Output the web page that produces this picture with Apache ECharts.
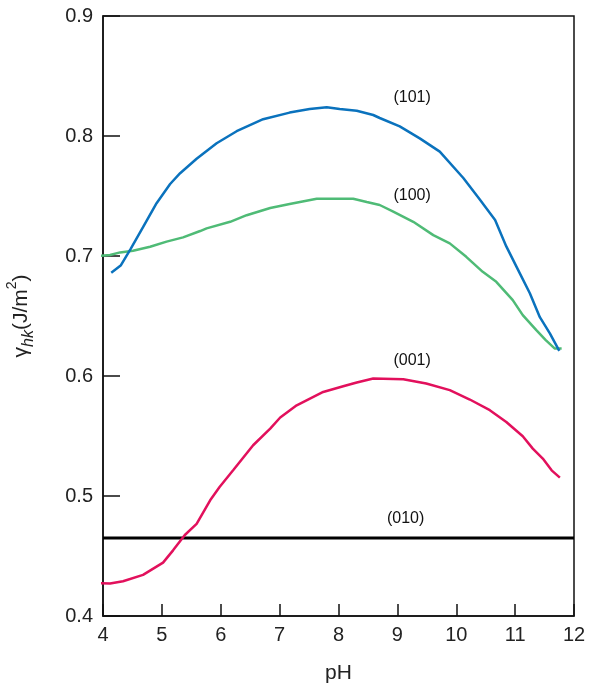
<!DOCTYPE html>
<html>
<head>
<meta charset="utf-8">
<script src="https://cdn.jsdelivr.net/npm/echarts@6/dist/echarts.min.js"></script>
<style>
html, body { margin: 0; padding: 0; background: #fff; }
#chart { width: 589px; height: 689px; }
</style>
</head>
<body>
<div id="chart"></div>
<script>
// (101) curve
let ph101 = [4.14, 4.30, 4.47, 4.68, 4.91, 5.14, 5.31, 5.59, 5.93, 6.27, 6.72, 7.17, 7.51, 7.80, 8.02, 8.31, 8.59, 8.70, 9.04, 9.38, 9.72, 10.12, 10.40, 10.66, 10.85, 11.08, 11.25, 11.42, 11.59, 11.75];
let g101 = [0.686, 0.692, 0.706, 0.724, 0.744, 0.760, 0.769, 0.781, 0.794, 0.804, 0.814, 0.8195, 0.8225, 0.824, 0.8225, 0.821, 0.8175, 0.815, 0.808, 0.798, 0.787, 0.765, 0.747, 0.730, 0.708, 0.6855, 0.669, 0.649, 0.6355, 0.621];

// (100) curve
let ph100 = [3.93, 4.12, 4.29, 4.51, 4.80, 5.08, 5.36, 5.65, 5.76, 6.16, 6.44, 6.84, 7.17, 7.63, 8.25, 8.48, 8.70, 8.93, 9.27, 9.61, 9.89, 10.17, 10.45, 10.68, 10.96, 11.13, 11.36, 11.52, 11.67, 11.79];
let g100 = [0.700, 0.7008, 0.703, 0.7043, 0.7077, 0.712, 0.7155, 0.7208, 0.723, 0.7285, 0.734, 0.740, 0.7433, 0.7477, 0.7477, 0.745, 0.7425, 0.737, 0.7285, 0.7174, 0.7105, 0.6993, 0.6868, 0.6785, 0.6632, 0.6507, 0.6382, 0.6299, 0.623, 0.623];

// (001) curve
let ph001 = [3.95, 4.12, 4.34, 4.68, 5.02, 5.19, 5.39, 5.59, 5.82, 5.98, 6.21, 6.55, 6.84, 7.01, 7.29, 7.74, 8.08, 8.31, 8.59, 9.10, 9.49, 9.89, 10.23, 10.57, 10.85, 11.13, 11.30, 11.47, 11.62, 11.76];
let g001 = [0.4274, 0.427, 0.429, 0.4343, 0.4445, 0.4547, 0.4675, 0.4767, 0.4964, 0.5075, 0.5214, 0.5423, 0.5562, 0.5654, 0.5756, 0.5867, 0.5915, 0.5946, 0.5979, 0.5973, 0.5937, 0.5882, 0.5804, 0.5715, 0.5617, 0.5498, 0.5395, 0.5312, 0.5214, 0.5153];

// (010) constant
let ph010 = [4, 12];
let g010 = [0.465, 0.465];

// curve labels
let labelNames = ['(101)', '(100)', '(001)', '(010)'];
let labelPh = [9.25, 9.25, 9.25, 9.14];
let labelG = [0.832, 0.750, 0.613, 0.481];

let xTicks = [4, 5, 6, 7, 8, 9, 10, 11, 12];
let yTicks = [0.4, 0.5, 0.6, 0.7, 0.8, 0.9];

function pairs(xs, ys) {
	return xs.map((x, i) => [x, ys[i]]);
}

let myChart = echarts.init(document.getElementById('chart'));

let font = 'Liberation Sans, Arial, sans-serif';

option = {
	animation: false,
	grid: {
		left: 103,
		right: 15,
		top: 16,
		bottom: 73,
		containLabel: false,
		outerBoundsMode: 'none',
		show: true,
		borderColor: '#111',
		borderWidth: 1.5
	},
	xAxis: {
		type: 'value',
		min: xTicks[0],
		max: xTicks[xTicks.length - 1],
		interval: 1,
		name: 'pH',
		nameLocation: 'middle',
		nameGap: 47,
		nameTextStyle: { fontFamily: font, fontSize: 21, color: '#222' },
		axisLine: { lineStyle: { color: '#111', width: 1.5 } },
		axisTick: { inside: true, length: 12, lineStyle: { color: '#111', width: 1.5 } },
		axisLabel: { fontFamily: font, fontSize: 20, color: '#222', margin: 9 },
		splitLine: { show: false }
	},
	yAxis: {
		type: 'value',
		min: yTicks[0],
		max: yTicks[yTicks.length - 1],
		interval: 0.1,
		name: 'γ{i|hk}(J/m{sup|2})',
		nameLocation: 'middle',
		nameRotate: 90,
		nameGap: 66,
		nameTextStyle: {
			fontFamily: font, fontSize: 21, color: '#222',
			lineHeight: 28,
			rich: {
				i: { fontFamily: font, fontSize: 16, fontStyle: 'italic', color: '#222', verticalAlign: 'bottom', lineHeight: 20 },
				sup: { fontFamily: font, fontSize: 14, color: '#222', verticalAlign: 'top', lineHeight: 32 }
			}
		},
		axisLine: { lineStyle: { color: '#111', width: 1.5 } },
		axisTick: { inside: true, length: 17, lineStyle: { color: '#111', width: 1.5 } },
		axisLabel: {
			fontFamily: font, fontSize: 20, color: '#222', margin: 10,
			formatter: v => v.toFixed(1)
		},
		splitLine: { show: false }
	},
	series: [
		{
			name: '(010)',
			type: 'line',
			data: pairs(ph010, g010),
			symbol: 'none',
			lineStyle: { color: '#000', width: 3 }
		},
		{
			name: '(001)',
			type: 'line',
			data: pairs(ph001, g001),
			symbol: 'none',
			clip: false,
			lineStyle: { color: '#e2105c', width: 2.5 }
		},
		{
			name: '(100)',
			type: 'line',
			data: pairs(ph100, g100),
			symbol: 'none',
			clip: false,
			lineStyle: { color: '#4fbb76', width: 2.5 }
		},
		{
			name: '(101)',
			type: 'line',
			data: pairs(ph101, g101),
			symbol: 'none',
			clip: false,
			lineStyle: { color: '#0a72bd', width: 2.5 }
		},
		{
			name: 'labels',
			type: 'scatter',
			symbolSize: 0,
			itemStyle: { opacity: 1 },
			data: labelNames.map((n, i) => ({ name: n, value: [labelPh[i], labelG[i]] })),
			label: {
				show: true,
				position: 'inside',
				formatter: p => p.name,
				fontFamily: font,
				fontSize: 16,
				color: '#111',
				textBorderWidth: 0
			}
		}
	]
};

myChart.setOption(option);
</script>
</body>
</html>
